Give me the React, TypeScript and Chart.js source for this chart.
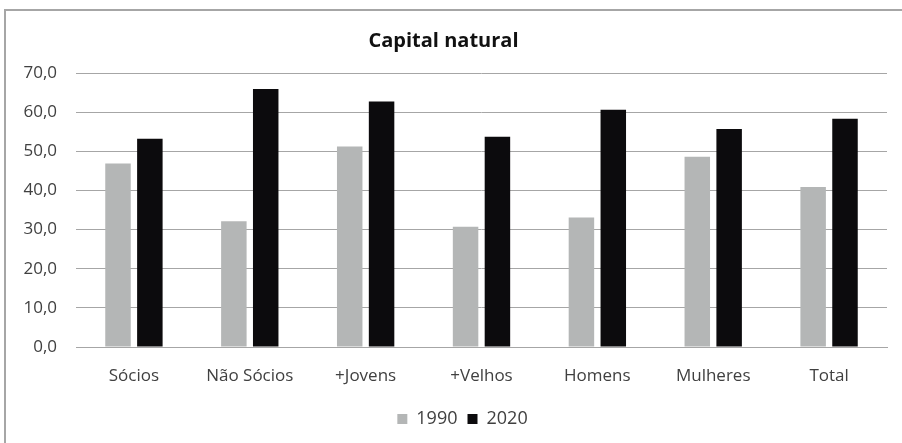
import React, { useEffect, useRef } from "react";
import { Chart, registerables } from "chart.js";

Chart.register(...registerables);

const categories = ["Sócios", "Não Sócios", "+Jovens", "+Velhos", "Homens", "Mulheres", "Total"];
const series1990 = [46.9, 32.1, 51.2, 30.7, 33.1, 48.6, 40.9];
const series2020 = [53.2, 65.9, 62.7, 53.7, 60.6, 55.7, 58.3];
const seriesLabels = ["1990", "2020"];
const titleText = "Capital natural";

const FONT = "'Open Sans', sans-serif";

const legendShift = {
  id: "legendShift",
  afterLayout(chart: any) {
    const lg = chart.legend;
    if (lg) {
      lg.left += 19;
      lg.right += 19;
    }
  },
};

export default function App() {
  const ref = useRef<HTMLCanvasElement | null>(null);

  useEffect(() => {
    if (!ref.current) return;
    const chart = new Chart(ref.current, {
      type: "bar",
      data: {
        labels: categories,
        datasets: [
          {
            label: seriesLabels[0],
            data: series1990,
            backgroundColor: "#b4b6b6",
            categoryPercentage: 0.55,
            barPercentage: 0.8,
          },
          {
            label: seriesLabels[1],
            data: series2020,
            backgroundColor: "#0c0b0d",
            categoryPercentage: 0.55,
            barPercentage: 0.8,
          },
        ],
      },
      options: {
        responsive: false,
        animation: false,
        layout: { padding: { left: 0, right: 15, top: 0, bottom: 5 } },
        plugins: {
          title: {
            display: true,
            text: titleText,
            color: "#111",
            font: { family: FONT, size: 20, weight: "bold", lineHeight: 1.2 },
            padding: { top: 29, bottom: 20 },
          },
          legend: {
            position: "bottom",
            labels: {
              color: "#404040",
              font: { family: FONT, size: 18 },
              boxWidth: 10,
              boxHeight: 10,
              padding: 10,
            },
          },
          tooltip: { enabled: false },
        },
        scales: {
          x: {
            grid: { display: false, drawTicks: false },
            border: { display: true, color: "#a6a6a6", width: 1 },
            ticks: {
              color: "#404040",
              font: { family: FONT, size: 17 },
              padding: 19,
              maxRotation: 0,
            },
            afterFit: (s: any) => {
              s.height = 53;
            },
          },
          y: {
            min: 0,
            max: 70,
            grid: { color: "#a6a6a6", drawTicks: false, lineWidth: 1 },
            border: { display: false },
            ticks: {
              stepSize: 10,
              color: "#404040",
              font: { family: FONT, size: 17 },
              padding: 19,
              callback: (v: any) => Number(v).toFixed(1).replace(".", ","),
            },
            afterFit: (s: any) => {
              s.width = 76;
            },
          },
        },
      },
      plugins: [legendShift],
    });
    return () => chart.destroy();
  }, []);

  return (
    <div
      style={{
        position: "absolute",
        left: 0,
        top: 0,
        width: 902,
        height: 443,
        overflow: "hidden",
        background: "#fff",
      }}
    >
      <div
        style={{
          position: "absolute",
          left: 4,
          top: 9,
          width: 1000,
          height: 1000,
          border: "2px solid #a6a6a6",
          boxSizing: "border-box",
        }}
      />
      <canvas
        ref={ref}
        width={902}
        height={443}
        style={{ position: "absolute", left: 0, top: 0, width: 902, height: 443 }}
      />
    </div>
  );
}
